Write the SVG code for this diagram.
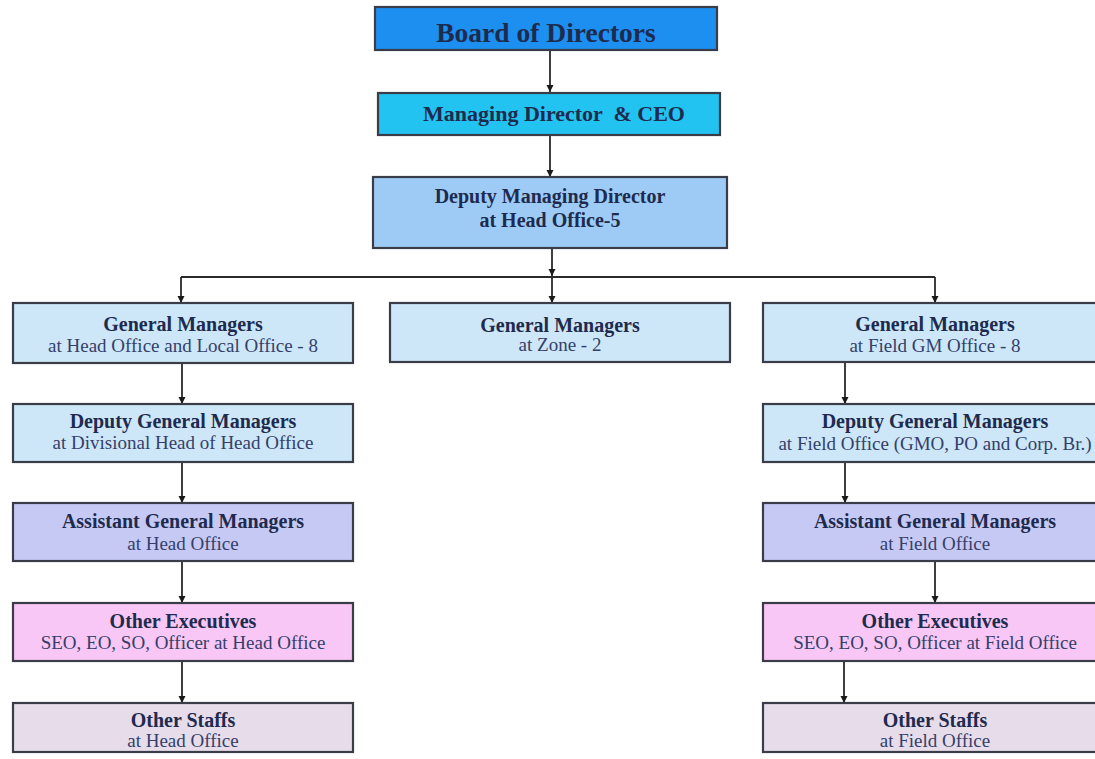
<svg xmlns="http://www.w3.org/2000/svg" width="1095" height="759" viewBox="0 0 1095 759">
<style>
.box{stroke:#3a3d48;stroke-width:2.2}
.t{font-family:"Liberation Serif","Times New Roman",serif;text-anchor:middle;fill:#1e2b4e}
.b{font-weight:bold;font-size:20px}
.s{font-size:19px}
.sub{fill:#34406a}
.con{stroke:#2a2a2a;stroke-width:1.8;fill:none}
</style>
<defs>
<marker id="ah" markerWidth="8" markerHeight="8" refX="7" refY="4" orient="auto" markerUnits="userSpaceOnUse">
<path d="M0,0.5 L7,4 L0,7.5 Z" fill="#1a1a1a"/>
</marker>
</defs>
<rect width="1095" height="759" fill="#ffffff"/>
<g id="connectors">
<path class="con" d="M550,50 V92" marker-end="url(#ah)"/>
<path class="con" d="M550,135 V177" marker-end="url(#ah)"/>
<path class="con" d="M552,248 V276" marker-end="url(#ah)"/>
<path class="con" d="M181,277 H935"/>
<path class="con" d="M552,277 V303" marker-end="url(#ah)"/>
<path class="con" d="M181,277 V303" marker-end="url(#ah)"/>
<path class="con" d="M935,277 V303" marker-end="url(#ah)"/>
<path class="con" d="M182,363 V404" marker-end="url(#ah)"/>
<path class="con" d="M182,462 V503" marker-end="url(#ah)"/>
<path class="con" d="M182,561 V603" marker-end="url(#ah)"/>
<path class="con" d="M182,661 V703" marker-end="url(#ah)"/>
<path class="con" d="M845,362 V404" marker-end="url(#ah)"/>
<path class="con" d="M845,462 V503" marker-end="url(#ah)"/>
<path class="con" d="M935,561 V603" marker-end="url(#ah)"/>
<path class="con" d="M844,661 V703" marker-end="url(#ah)"/>
</g>
<g id="board">
<rect class="box" x="375" y="7" width="342" height="43" fill="#1d8ff0"/>
<text class="t" font-weight="bold" x="546" y="42" font-size="27.5">Board of Directors</text>
</g>
<g id="md">
<rect class="box" x="378" y="93" width="342" height="42" fill="#22c3f0"/>
<text class="t" font-weight="bold" x="554" y="121" font-size="22" xml:space="preserve">Managing Director  &amp; CEO</text>
</g>
<g id="dmd">
<rect class="box" x="373" y="177" width="354" height="71" fill="#9dcbf5"/>
<text class="t" font-weight="bold" x="550" y="203" font-size="20">Deputy Managing Director</text>
<text class="t" font-weight="bold" x="550" y="227" font-size="20">at Head Office-5</text>
</g>
<g id="gm-head">
<rect class="box" x="13" y="303" width="340" height="60" fill="#cde7f8"/>
<text class="t b" x="183" y="331">General Managers</text>
<text class="t s sub" x="183" y="352">at Head Office and Local Office - 8</text>
</g>
<g id="gm-zone">
<rect class="box" x="390" y="303" width="340" height="59" fill="#cde7f8"/>
<text class="t b" x="560" y="332">General Managers</text>
<text class="t s sub" x="560" y="351">at Zone - 2</text>
</g>
<g id="gm-field">
<rect class="box" x="763" y="303" width="344" height="59" fill="#cde7f8"/>
<text class="t b" x="935" y="331">General Managers</text>
<text class="t s sub" x="935" y="352">at Field GM Office - 8</text>
</g>
<g id="dgm-head">
<rect class="box" x="13" y="404" width="340" height="58" fill="#cde7f8"/>
<text class="t b" x="183" y="428">Deputy General Managers</text>
<text class="t s sub" x="183" y="449">at Divisional Head of Head Office</text>
</g>
<g id="dgm-field">
<rect class="box" x="763" y="404" width="344" height="58" fill="#cde7f8"/>
<text class="t b" x="935" y="428">Deputy General Managers</text>
<text class="t s sub" x="935" y="450">at Field Office (GMO, PO and Corp. Br.)</text>
</g>
<g id="agm-head">
<rect class="box" x="13" y="503" width="340" height="58" fill="#c7c9f5"/>
<text class="t b" x="183" y="528">Assistant General Managers</text>
<text class="t s sub" x="183" y="550">at Head Office</text>
</g>
<g id="agm-field">
<rect class="box" x="763" y="503" width="344" height="58" fill="#c7c9f5"/>
<text class="t b" x="935" y="528">Assistant General Managers</text>
<text class="t s sub" x="935" y="550">at Field Office</text>
</g>
<g id="oe-head">
<rect class="box" x="13" y="603" width="340" height="58" fill="#f8c7f6"/>
<text class="t b" x="183" y="628">Other Executives</text>
<text class="t s sub" x="183" y="649">SEO, EO, SO, Officer at Head Office</text>
</g>
<g id="oe-field">
<rect class="box" x="763" y="603" width="344" height="58" fill="#f8c7f6"/>
<text class="t b" x="935" y="628">Other Executives</text>
<text class="t s sub" x="935" y="649">SEO, EO, SO, Officer at Field Office</text>
</g>
<g id="os-head">
<rect class="box" x="13" y="703" width="340" height="49" fill="#e7dcea"/>
<text class="t b" x="183" y="727">Other Staffs</text>
<text class="t s sub" x="183" y="747">at Head Office</text>
</g>
<g id="os-field">
<rect class="box" x="763" y="703" width="344" height="49" fill="#e7dcea"/>
<text class="t b" x="935" y="727">Other Staffs</text>
<text class="t s sub" x="935" y="747">at Field Office</text>
</g>
</svg>
